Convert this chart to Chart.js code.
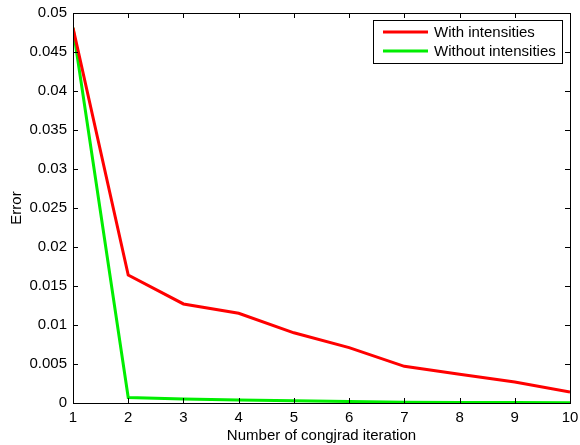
<!DOCTYPE html>
<html><head><meta charset="utf-8">
<script src="https://cdn.jsdelivr.net/npm/chart.js@4.4.0/dist/chart.umd.min.js"></script>
<style>html,body{margin:0;padding:0;background:#fff;}#wrap{width:580px;height:445px;}</style>
</head><body><div id="wrap"><canvas id="c" width="580" height="445"></canvas></div>
<script>
const iterations = [1,2,3,4,5,6,7,8,9,10];
const withIntensities = [0.0481,0.0164,0.0127,0.0115,0.0090,0.0071,0.0047,0.0037,0.0027,0.0014];
const withoutIntensities = [0.0481,0.0007,0.0005,0.0004,0.0003,0.0002,0.0001,0.00008,0.00005,0.00003];
const seriesLabels = ['With intensities','Without intensities'];
const xTitle = 'Number of congjrad iteration';
const yTitle = 'Error';
const FONT = 'Liberation Sans, Arial, Helvetica, sans-serif';

const framePlugin = {
  id:'frame',
  afterDraw(chart){
    const ctx = chart.ctx, a = chart.chartArea;
    const xs = chart.scales.x, ys = chart.scales.y;
    ctx.save();
    ctx.strokeStyle = '#000'; ctx.lineWidth = 1;
    ctx.strokeRect(Math.round(a.left)+0.5, Math.round(a.top)+0.5, Math.round(a.right-a.left), Math.round(a.bottom-a.top));
    ctx.beginPath();
    xs.ticks.forEach(t=>{
      const px = Math.round(xs.getPixelForValue(t.value))+0.5;
      ctx.moveTo(px,a.bottom); ctx.lineTo(px,a.bottom-5);
      ctx.moveTo(px,a.top); ctx.lineTo(px,a.top+5);
    });
    ys.ticks.forEach(t=>{
      const py = Math.round(ys.getPixelForValue(t.value))+0.5;
      ctx.moveTo(a.left,py); ctx.lineTo(a.left+5,py);
      ctx.moveTo(a.right,py); ctx.lineTo(a.right-5,py);
    });
    ctx.stroke();
    // legend
    const lx = 373, ly = 20, lw = 189, lh = 43;
    ctx.fillStyle = '#fff';
    ctx.fillRect(lx, ly, lw, lh);
    ctx.strokeRect(lx+0.5, ly+0.5, lw, lh);
    ctx.font = '15px ' + FONT;
    ctx.textBaseline = 'middle';
    chart.data.datasets.forEach((d,i)=>{
      const y = ly + 12 + i*19;
      ctx.strokeStyle = d.borderColor; ctx.lineWidth = 3;
      ctx.beginPath(); ctx.moveTo(383,y); ctx.lineTo(428,y); ctx.stroke();
      ctx.fillStyle = '#000';
      ctx.fillText(d.label, 434, y+1);
    });
    ctx.restore();
  }
};

new Chart(document.getElementById('c'), {
  type:'line',
  data:{
    labels: iterations,
    datasets:[
      {label:seriesLabels[0], data:withIntensities, borderColor:'#ff0000', borderWidth:3, pointRadius:0, tension:0, fill:false},
      {label:seriesLabels[1], data:withoutIntensities, borderColor:'#00ee00', borderWidth:3, pointRadius:0, tension:0, fill:false}
    ]
  },
  options:{
    responsive:false, animation:false,
    layout:{padding:{left:0,right:10,top:13,bottom:0}},
    plugins:{legend:{display:false}, tooltip:{enabled:false}},
    scales:{
      x:{type:'linear', min:1, max:10,
        grid:{display:false, drawTicks:false}, border:{display:false},
        ticks:{stepSize:1, color:'#000', font:{family:FONT,size:15}, padding:6, maxRotation:0},
        title:{display:true, text:xTitle, color:'#000', font:{family:FONT,size:15}, padding:{top:0,bottom:0}},
        afterFit(s){ s.height = 42; s.paddingLeft = 0; s.paddingRight = 0; }
      },
      y:{min:0, max:0.05,
        grid:{display:false, drawTicks:false}, border:{display:false},
        ticks:{stepSize:0.005, color:'#000', font:{family:FONT,size:15}, padding:6,
          callback:v=>{ const r = Math.round(v*1000)/1000; return r===0?'0':String(parseFloat(v.toFixed(3))); }},
        title:{display:true, text:yTitle, color:'#000', font:{family:FONT,size:15}, padding:{top:8,bottom:0}},
        afterFit(s){ s.width = 73; s.paddingTop = 0; s.paddingBottom = 0; }
      }
    }
  },
  plugins:[framePlugin]
});
</script></body></html>
